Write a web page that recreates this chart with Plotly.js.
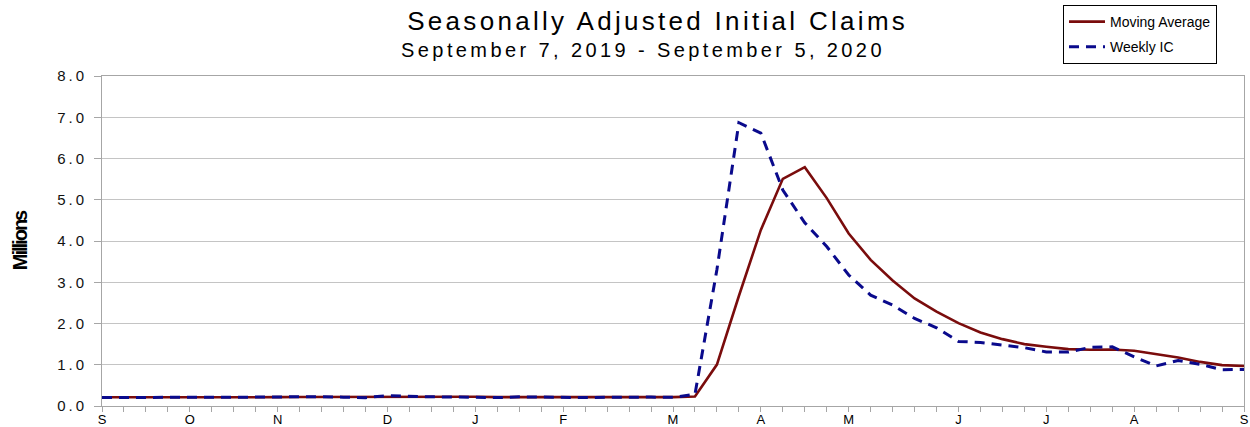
<!DOCTYPE html>
<html>
<head>
<meta charset="utf-8">
<script src="https://cdn.plot.ly/plotly-3.0.1.min.js"></script>
<style>
  html, body { margin: 0; padding: 0; background: #fff; }
  #chart { width: 1250px; height: 427px; }
  .js-plotly-plot .gtitle { letter-spacing: 3.3px; }
  .js-plotly-plot .annotation-text { letter-spacing: 3.4px; }
  .js-plotly-plot .ytick text { letter-spacing: 3px; }
  .js-plotly-plot .ytitle { letter-spacing: -2px; }
</style>
</head>
<body>
<div id="chart"></div>
<script>
// Week-ending dates (categories)
const weeks = [
  '2019-09-07','2019-09-14','2019-09-21','2019-09-28',
  '2019-10-05','2019-10-12','2019-10-19','2019-10-26',
  '2019-11-02','2019-11-09','2019-11-16','2019-11-23','2019-11-30',
  '2019-12-07','2019-12-14','2019-12-21','2019-12-28',
  '2020-01-04','2020-01-11','2020-01-18','2020-01-25',
  '2020-02-01','2020-02-08','2020-02-15','2020-02-22','2020-02-29',
  '2020-03-07','2020-03-14','2020-03-21','2020-03-28',
  '2020-04-04','2020-04-11','2020-04-18','2020-04-25',
  '2020-05-02','2020-05-09','2020-05-16','2020-05-23','2020-05-30',
  '2020-06-06','2020-06-13','2020-06-20','2020-06-27',
  '2020-07-04','2020-07-11','2020-07-18','2020-07-25',
  '2020-08-01','2020-08-08','2020-08-15','2020-08-22','2020-08-29',
  '2020-09-05'
];

// Weekly initial claims, seasonally adjusted (millions)
const weeklyIC = [
  0.204, 0.208, 0.213, 0.219,
  0.210, 0.214, 0.212, 0.218,
  0.211, 0.225, 0.227, 0.213, 0.203,
  0.252, 0.234, 0.222, 0.220,
  0.214, 0.204, 0.223, 0.216,
  0.202, 0.205, 0.210, 0.219, 0.216,
  0.211, 0.282, 3.307, 6.867,
  6.615, 5.237, 4.442, 3.867,
  3.176, 2.687, 2.446, 2.123, 1.897,
  1.566, 1.540, 1.482, 1.413,
  1.310, 1.307, 1.422, 1.435,
  1.191, 0.971, 1.104, 1.011, 0.881,
  0.884
];

// 4-week moving average (millions)
const movingAvg = [
  0.212, 0.210, 0.211, 0.211,
  0.213, 0.214, 0.214, 0.214,
  0.214, 0.217, 0.220, 0.219, 0.217,
  0.224, 0.226, 0.228, 0.232,
  0.223, 0.215, 0.215, 0.214,
  0.211, 0.212, 0.208, 0.209, 0.213,
  0.214, 0.232, 1.004, 2.667,
  4.268, 5.507, 5.790, 5.040,
  4.181, 3.543, 3.044, 2.608, 2.288,
  2.008, 1.782, 1.621, 1.500,
  1.436, 1.378, 1.363, 1.369,
  1.339, 1.255, 1.175, 1.069, 0.992,
  0.970
];

// Month tick labels
const monthTickVals = [
  '2019-09-07','2019-10-05','2019-11-02','2019-12-07','2020-01-04','2020-02-01',
  '2020-03-07','2020-04-04','2020-05-02','2020-06-06','2020-07-04','2020-08-01','2020-09-05'
];
const monthTickText = ['S','O','N','D','J','F','M','A','M','J','J','A','S'];

const seriesNames = ['Moving Average', 'Weekly IC'];
const titleText = 'Seasonally Adjusted Initial Claims';
const subtitleText = 'September 7, 2019 - September 5, 2020';
const yTitle = 'Millions';

const FONT = 'Liberation Sans, Arial, sans-serif';
const AXIS = '#a6a6a6';

const traces = [
  {
    x: weeks, y: movingAvg, name: seriesNames[0], type: 'scatter', mode: 'lines',
    line: { color: '#7a0c0c', width: 2.6 }, legendgroup: 'a'
  },
  {
    x: weeks, y: weeklyIC, name: seriesNames[1], type: 'scatter', mode: 'lines',
    line: { color: '#0a0a8c', width: 3, dash: '10px,7px' }, legendgroup: 'b'
  }
];

const layout = {
  width: 1250, height: 427,
  margin: { l: 102, r: 6, t: 76, b: 21, autoexpand: false },
  paper_bgcolor: '#fff', plot_bgcolor: '#fff',
  font: { family: FONT, color: '#000' },
  title: {
    text: titleText,
    font: { family: FONT, size: 26, color: '#000' },
    xref: 'paper', x: 0.4866, xanchor: 'center',
    yref: 'container', y: 0.952, yanchor: 'middle'
  },
  annotations: [{
    text: subtitleText, showarrow: false,
    xref: 'paper', x: 0.4734, xanchor: 'center',
    yref: 'paper', y: 1.079, yanchor: 'middle',
    font: { family: FONT, size: 20, color: '#000' }
  }],
  showlegend: true,
  legend: {
    x: 0.8415, y: 1.2152, xanchor: 'left', yanchor: 'top',
    bgcolor: '#fff', bordercolor: '#000', borderwidth: 1,
    font: { family: FONT, size: 14, color: '#000' },
    itemwidth: 36, traceorder: 'grouped', tracegroupgap: 4
  },
  xaxis: {
    type: 'date',
    range: ['2019-09-07', '2020-09-05'],
    tickmode: 'array', tickvals: monthTickVals, ticktext: monthTickText,
    ticks: 'outside', ticklen: 5, tickcolor: AXIS, tickwidth: 1,
    ticklabelstandoff: -4,
    tickfont: { family: FONT, size: 13, color: '#000' },
    showgrid: false, zeroline: false,
    showline: true, linecolor: AXIS, linewidth: 1, mirror: true,
    minor: { ticks: 'outside', ticklen: 5, tickcolor: AXIS, tickwidth: 1,
             dtick: 604800000, tick0: '2019-09-07', showgrid: false },
    fixedrange: true
  },
  yaxis: {
    range: [0, 8], dtick: 1, tick0: 0, tickformat: '.1f',
    ticks: 'outside', ticklen: 7, tickcolor: AXIS, tickwidth: 1,
    ticklabelstandoff: 4,
    tickfont: { family: FONT, size: 15, color: '#111' },
    showgrid: true, gridcolor: '#c4c4c4', gridwidth: 1,
    zeroline: false,
    showline: true, linecolor: AXIS, linewidth: 1, mirror: true,
    title: { text: yTitle, standoff: 33,
             font: { family: FONT, size: 20, color: '#000', weight: 'bold' } },
    fixedrange: true
  }
};

Plotly.newPlot('chart', traces, layout, { displayModeBar: false, staticPlot: true });
</script>
</body>
</html>
